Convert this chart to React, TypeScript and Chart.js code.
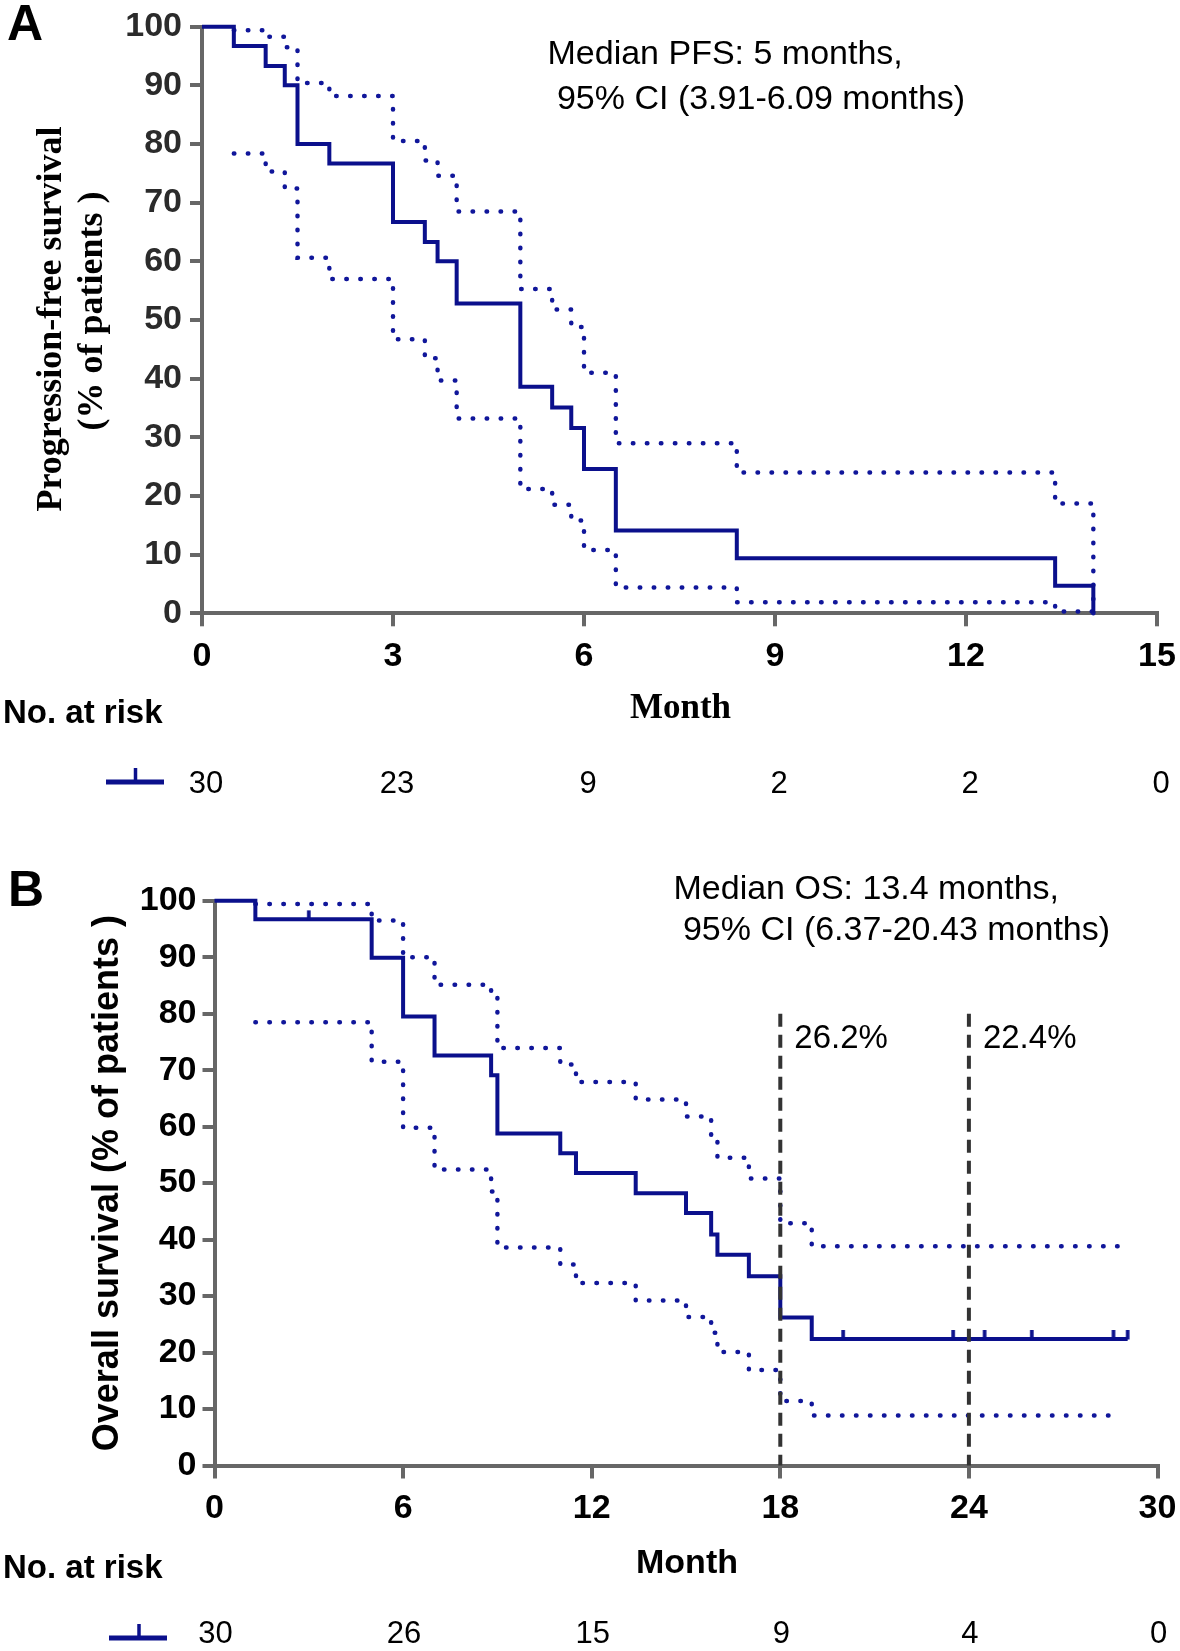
import React, { useEffect, useRef } from 'react';
import { Chart, registerables } from 'chart.js';

Chart.register(...registerables);

// ---------------- Data ----------------
// Panel A: progression-free survival (months, %)
const pfsTimes = [0, 0.5, 1.0, 1.3, 1.5, 2.0, 3.0, 3.5, 3.7, 4.0, 5.0, 5.5, 5.8, 6.0, 6.5, 8.4, 13.4, 14.0];
const pfsSurv = [100, 96.7, 93.3, 90.0, 80.0, 76.7, 66.7, 63.3, 60.0, 52.8, 38.6, 35.1, 31.6, 24.6, 14.1, 9.4, 4.7, 0];
const pfsCiTimes = [0.5, 1.0, 1.3, 1.5, 2.0, 3.0, 3.5, 3.7, 4.0, 5.0, 5.5, 5.8, 6.0, 6.5, 8.4, 13.4, 14.0];
const pfsUpper = [99.4, 98.3, 96.5, 90.4, 88.2, 80.5, 77.2, 74.6, 68.5, 55.3, 51.8, 48.8, 41.0, 29.0, 24.0, 18.7, 0];
const pfsLower = [78.4, 75.3, 72.4, 60.6, 57.0, 46.7, 43.5, 39.7, 33.2, 21.2, 18.5, 15.8, 10.8, 4.4, 1.9, 0.3, 0];
const pfsRiskTimes = [0, 3, 6, 9, 12, 15];
const pfsRisk = [30, 23, 9, 2, 2, 0];
const pfsNote = ['Median PFS: 5 months,', ' 95% CI (3.91-6.09 months)'];

// Panel B: overall survival (months, %)
const osTimes = [0, 1.3, 5.0, 6.0, 7.0, 8.8, 9.0, 11.0, 11.5, 13.4, 15.0, 15.8, 16.0, 17.0, 18.0, 19.0, 29.05];
const osSurv = [100, 96.7, 89.9, 79.5, 72.6, 69.1, 58.8, 55.3, 51.8, 48.2, 44.7, 40.9, 37.3, 33.5, 26.2, 22.4, 22.4];
const osCiTimes = [1.3, 5.0, 6.0, 7.0, 8.8, 9.0, 11.0, 11.5, 13.4, 15.0, 15.8, 16.0, 17.0, 18.0, 19.0, 28.8];
const osUpper = [99.4, 96.5, 90.0, 85.1, 82.8, 73.9, 71.0, 67.9, 64.8, 61.8, 58.4, 54.5, 50.8, 42.9, 38.8, 38.8];
const osLower = [78.5, 71.5, 59.8, 52.4, 48.5, 38.6, 35.6, 32.3, 29.2, 26.3, 23.5, 20.1, 16.9, 11.4, 8.85, 8.85];
const osCensorTimes = [3.0, 20.0, 23.5, 24.5, 26.0, 28.6, 29.05];
const osRefTimes = [18, 24];
const osRefTop = 80;
const osRefLabels = ['26.2%', '22.4%'];
const osRiskTimes = [0, 6, 12, 18, 24, 30];
const osRisk = [30, 26, 15, 9, 4, 0];
const osNote = ['Median OS: 13.4 months,', ' 95% CI (6.37-20.43 months)'];

// ---------------- Styles ----------------
const KM = '#0b108c';
const CI = '#10169a';
const AXIS = '#676767';
const SANS = '"Liberation Sans", Arial, sans-serif';
const SERIF = '"Liberation Serif", "Times New Roman", serif';

const pts = (t: number[], v: number[]) => t.map((x, i) => ({ x, y: v[i] }));
const kmAt = (t: number[], v: number[], x: number) => {
  let r = v[0];
  t.forEach((tt, i) => { if (tt <= x) r = v[i]; });
  return r;
};

function censorMark(color: string) {
  const c = document.createElement('canvas');
  c.width = 8; c.height = 22;
  const g = c.getContext('2d')!;
  g.fillStyle = color;
  g.fillRect(2.2, 2, 3.6, 9.5);
  return c;
}

function txt(ctx: CanvasRenderingContext2D, s: string, x: number, y: number, font: string, color = '#000', align: CanvasTextAlign = 'left', rot = 0) {
  ctx.save();
  ctx.font = font;
  ctx.fillStyle = color;
  ctx.textAlign = align;
  ctx.textBaseline = 'alphabetic';
  ctx.translate(x, y);
  if (rot) ctx.rotate(rot);
  ctx.fillText(s, 0, 0);
  ctx.restore();
}

function legendMark(ctx: CanvasRenderingContext2D, x0: number, x1: number, y: number, xm: number) {
  ctx.save();
  ctx.strokeStyle = KM;
  ctx.lineWidth = 5;
  ctx.beginPath(); ctx.moveTo(x0, y); ctx.lineTo(x1, y); ctx.stroke();
  ctx.lineWidth = 3.5;
  ctx.beginPath(); ctx.moveTo(xm, y); ctx.lineTo(xm, y - 14); ctx.stroke();
  ctx.restore();
}

function axes(xMax: number, xStep: number, yW: number, xH: number, yColor: string, yPad: number) {
  return {
    x: {
      type: 'linear', min: 0, max: xMax,
      afterFit: (s: any) => { s.height = xH; s.paddingLeft = 0; s.paddingRight = 0; },
      border: { display: true, color: AXIS, width: 4 },
      grid: { display: true, drawOnChartArea: false, drawTicks: true, tickLength: 13, color: AXIS, lineWidth: 4 },
      ticks: { stepSize: xStep, autoSkip: false, maxRotation: 0, font: { family: SANS, size: 34, weight: 'bold' }, color: '#000', padding: 10 },
    },
    y: {
      type: 'linear', min: 0, max: 100,
      afterFit: (s: any) => { s.width = yW; s.paddingTop = 0; s.paddingBottom = 0; },
      border: { display: true, color: AXIS, width: 4 },
      grid: { display: true, drawOnChartArea: false, drawTicks: true, tickLength: 12, color: AXIS, lineWidth: 4 },
      ticks: { stepSize: 10, autoSkip: false, font: { family: SANS, size: 34, weight: 'bold' }, color: yColor, padding: yPad },
    },
  };
}

const dotted = { borderDash: [0.5, 13.5], borderCapStyle: 'round', borderWidth: 4.5 };

export default function App() {
  const refA = useRef<HTMLCanvasElement>(null);
  const refB = useRef<HTMLCanvasElement>(null);

  useEffect(() => {
    // ---------- Panel A ----------
    const extrasA = {
      id: 'extrasA',
      afterDraw(chart: any) {
        const ctx = chart.ctx as CanvasRenderingContext2D;
        const xs = chart.scales.x;
        const ca = chart.chartArea;
        txt(ctx, 'A', 7, 40, `bold 50px ${SANS}`);
        txt(ctx, 'Progression-free survival', 61, 319, `bold 36px ${SERIF}`, '#000', 'center', -Math.PI / 2);
        txt(ctx, '(% of patients )', 102, 311, `bold 36px ${SERIF}`, '#000', 'center', -Math.PI / 2);
        txt(ctx, pfsNote[0], 547.5, 63.5, `34px ${SANS}`);
        txt(ctx, pfsNote[1], 547.5, 108.5, `34px ${SANS}`);
        txt(ctx, 'Month', (ca.left + ca.right) / 2 + 1, 718, `bold 35px ${SERIF}`, '#000', 'center');
        txt(ctx, 'No. at risk', 3, 723, `bold 33px ${SANS}`);
        legendMark(ctx, 106, 164, 782, 135.5);
        pfsRiskTimes.forEach((t, i) => {
          txt(ctx, String(pfsRisk[i]), xs.getPixelForValue(t) + 4, 793, `31px ${SANS}`, '#000', 'center');
        });
      },
    };

    const chartA = new Chart(refA.current!, {
      type: 'line',
      data: {
        datasets: [
          { data: pts(pfsTimes, pfsSurv), stepped: 'before', borderColor: KM, borderWidth: 4, pointRadius: 0, clip: false, fill: false } as any,
          { data: pts(pfsCiTimes, pfsUpper), stepped: 'before', borderColor: CI, pointRadius: 0, clip: false, fill: false, ...dotted } as any,
          { data: pts(pfsCiTimes, pfsLower), stepped: 'before', borderColor: CI, pointRadius: 0, clip: false, fill: false, ...dotted } as any,
        ],
      },
      options: {
        responsive: false, animation: false, devicePixelRatio: 1, events: [],
        layout: { padding: { top: 26.7, right: 23, bottom: 0, left: 0 } },
        plugins: { legend: { display: false }, tooltip: { enabled: false }, title: { display: false } },
        scales: axes(15, 3, 202, 830 - 613.3, '#2b2b2b', 8) as any,
      },
      plugins: [extrasA],
    });

    // ---------- Panel B ----------
    const OFF = 830;
    const extrasB = {
      id: 'extrasB',
      afterDraw(chart: any) {
        const ctx = chart.ctx as CanvasRenderingContext2D;
        const xs = chart.scales.x;
        const ys = chart.scales.y;
        const ca = chart.chartArea;
        txt(ctx, 'B', 8, 906 - OFF, `bold 50px ${SANS}`);
        txt(ctx, 'Overall survival (% of patients )', 118, (ca.top + ca.bottom) / 2, `bold 36px ${SANS}`, '#000', 'center', -Math.PI / 2);
        txt(ctx, osNote[0], 673.5, 899 - OFF, `34px ${SANS}`);
        txt(ctx, osNote[1], 673.5, 940 - OFF, `34px ${SANS}`);
        osRefTimes.forEach((t, i) => {
          txt(ctx, osRefLabels[i], xs.getPixelForValue(t) + 14, ys.getPixelForValue(73.9), `33px ${SANS}`);
        });
        txt(ctx, 'Month', (ca.left + ca.right) / 2 + 1, 1573 - OFF, `bold 34px ${SANS}`, '#000', 'center');
        txt(ctx, 'No. at risk', 3, 1578 - OFF, `bold 33px ${SANS}`);
        legendMark(ctx, 109, 167, 1638 - OFF, 139);
        osRiskTimes.forEach((t, i) => {
          txt(ctx, String(osRisk[i]), xs.getPixelForValue(t) + 1, 1643 - OFF, `31px ${SANS}`, '#000', 'center');
        });
      },
    };

    const mark = censorMark(KM);
    const chartB = new Chart(refB.current!, {
      type: 'line',
      data: {
        datasets: [
          ...osRefTimes.map((t) => ({
            data: [{ x: t, y: osRefTop }, { x: t, y: 0 }], borderColor: '#333333', borderWidth: 4,
            borderDash: [13, 8], pointRadius: 0, clip: false, fill: false,
          } as any)),
          {
            data: osCensorTimes.map((t) => ({ x: t, y: kmAt(osTimes, osSurv, t) })), showLine: false,
            pointStyle: mark, pointRadius: 3, clip: false,
          } as any,
          { data: pts(osTimes, osSurv), stepped: 'before', borderColor: KM, borderWidth: 4, pointRadius: 0, clip: false, fill: false } as any,
          { data: pts(osCiTimes, osUpper), stepped: 'before', borderColor: CI, pointRadius: 0, clip: false, fill: false, ...dotted } as any,
          { data: pts(osCiTimes, osLower), stepped: 'before', borderColor: CI, pointRadius: 0, clip: false, fill: false, ...dotted } as any,
        ],
      },
      options: {
        responsive: false, animation: false, devicePixelRatio: 1, events: [],
        layout: { padding: { top: 900.7 - OFF, right: 22.5, bottom: 0, left: 0 } },
        plugins: { legend: { display: false }, tooltip: { enabled: false }, title: { display: false } },
        scales: axes(30, 6, 214.5, 1651 - 1465.5, '#000', 6) as any,
      },
      plugins: [extrasB],
    });

    return () => { chartA.destroy(); chartB.destroy(); };
  }, []);

  return (
    <div style={{ position: 'absolute', left: 0, top: 0, width: 1180, height: 1651, background: '#fff' }}>
      <canvas ref={refA} width={1180} height={830} style={{ position: 'absolute', left: 0, top: 0, width: 1180, height: 830 }} />
      <canvas ref={refB} width={1180} height={821} style={{ position: 'absolute', left: 0, top: 830, width: 1180, height: 821 }} />
    </div>
  );
}
